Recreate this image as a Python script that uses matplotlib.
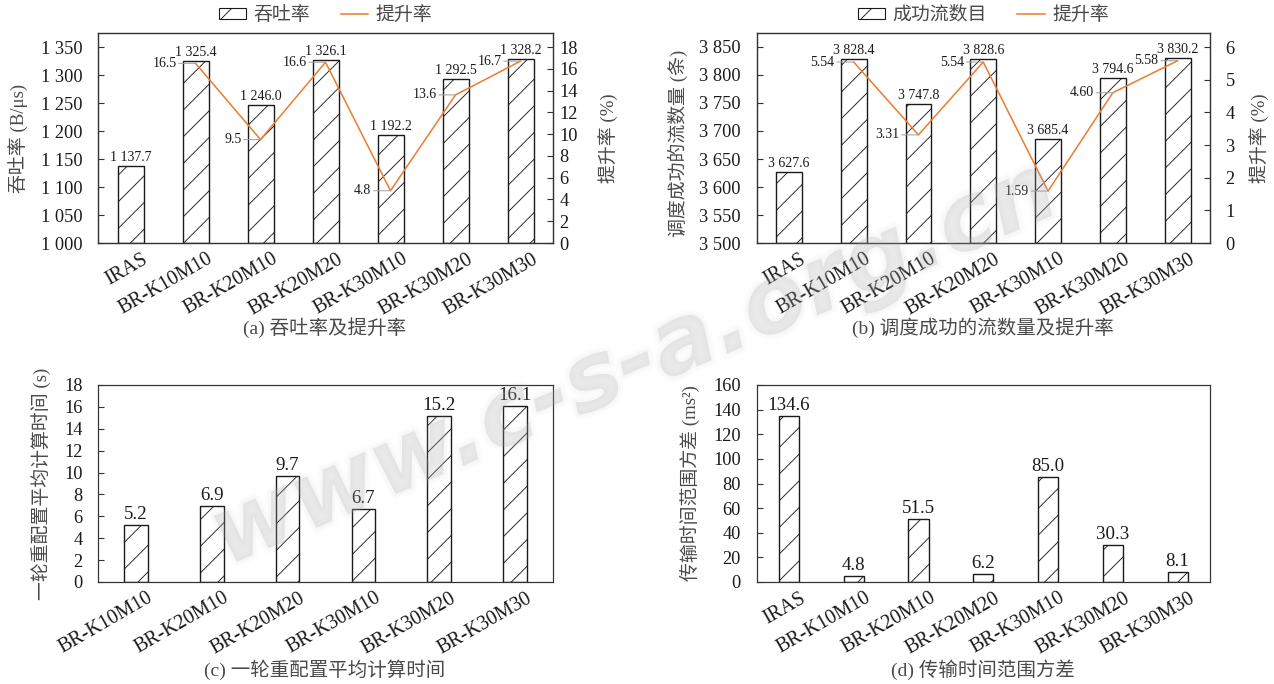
import matplotlib
matplotlib.use("Agg")
import matplotlib.pyplot as plt
import matplotlib.transforms as mtransforms
import matplotlib.patheffects as pe
from matplotlib.patches import Patch
from matplotlib.lines import Line2D
from matplotlib.ticker import FuncFormatter, MultipleLocator

plt.rcParams['font.family'] = ['Liberation Serif', 'Noto Sans CJK SC']
plt.rcParams['hatch.linewidth'] = 0.8
plt.rcParams['hatch.color'] = '#1a1a1a'

# ---------------- data ----------------
cats_all = ["IRAS", "BR-K10M10", "BR-K20M10", "BR-K20M20",
            "BR-K30M10", "BR-K30M20", "BR-K30M30"]
cats_br = cats_all[1:]

throughput = [1137.7, 1325.4, 1246.0, 1326.1, 1192.2, 1292.5, 1328.2]
throughput_gain = [16.5, 9.5, 16.6, 4.8, 13.6, 16.7]

flows = [3627.6, 3828.4, 3747.8, 3828.6, 3685.4, 3794.6, 3830.2]
flows_gain = [5.54, 3.31, 5.54, 1.59, 4.60, 5.58]

calc_time = [5.2, 6.9, 9.7, 6.7, 15.2, 16.1]
variance = [134.6, 4.8, 51.5, 6.2, 85.0, 30.3, 8.1]

# ---------------- figure ----------------
DPI = 80
W, H = 1274, 684
fig = plt.figure(figsize=(W / DPI, H / DPI), dpi=DPI)
fig.patch.set_facecolor('white')

ORANGE = '#ED7D31'
SPINE = '#333333'
NUM = '#1a1a1a'
CJK = '#4a4a4a'


def px_axes(l, t, r, b):
    return fig.add_axes([l / W, 1 - b / H, (r - l) / W, (b - t) / H])


def thousands(v, _pos=None):
    return f"{v:,.0f}".replace(",", " ")


def style_axes(ax, ypad=14):
    for s in ax.spines.values():
        s.set_color(SPINE)
        s.set_linewidth(1.1)
    ax.tick_params(axis='y', direction='in', length=5, width=1, color=SPINE,
                   labelsize=16.5, labelcolor=NUM, pad=ypad)
    ax.tick_params(axis='x', length=0, labelsize=18, labelcolor=NUM, pad=6)


def set_categories(ax, cats):
    x = list(range(len(cats)))
    ax.set_xticks(x)
    ax.set_xticklabels(cats, rotation=30, ha='right', va='top',
                       rotation_mode='anchor')
    shift = mtransforms.ScaledTranslation(11 / DPI, 0, fig.dpi_scale_trans)
    for lab in ax.get_xticklabels():
        lab.set_transform(lab.get_transform() + shift)
    ax.set_xlim(-0.5, len(cats) - 0.5)
    return x


def draw_bars(ax, x, vals, width, fmt, size, base=0):
    ax.bar(x, [v - base for v in vals], width=width, bottom=base,
           facecolor='white', edgecolor='#1a1a1a', linewidth=1.25,
           hatch='/', zorder=2)
    for xi, v in zip(x, vals):
        ax.annotate(fmt(v), (xi, v), xytext=(0, 2), textcoords='offset pixels',
                    ha='center', va='bottom', fontsize=size, color=NUM,
                    zorder=4)


def draw_gain(ax2, x, gains, fmt):
    ax2.plot(x, gains, color=ORANGE, lw=1.4, zorder=3)
    for xi, g in zip(x, gains):
        ax2.annotate(fmt(g), (xi, g), xytext=(-19, 0),
                     textcoords='offset pixels', ha='right', va='center',
                     fontsize=12.5, color=NUM, zorder=4,
                     arrowprops=dict(arrowstyle='-', color='#a0a0a0',
                                     lw=0.9, shrinkA=0, shrinkB=0))


def side_label(ax, x, y, text):
    ax.text(x, y, text, transform=ax.transAxes, rotation=90,
            ha='center', va='center', fontsize=17, color=CJK)


def caption(xpx, ypx, text):
    fig.text(xpx / W, 1 - ypx / H, text, ha='center', va='center',
             fontsize=17.5, color=CJK)


def legend(ax, label):
    handles = [Patch(facecolor='white', edgecolor='#1a1a1a', hatch='/',
                     linewidth=1.0, label=label),
               Line2D([], [], color=ORANGE, lw=1.4, label='提升率')]
    leg = ax.legend(handles=handles, loc='center', bbox_to_anchor=(0.5, 1.086),
                    ncol=2, frameon=False, fontsize=17, handlelength=1.45,
                    handleheight=0.55, handletextpad=0.4, columnspacing=1.6)
    for t in leg.get_texts():
        t.set_color(CJK)


# ---------------- (a) throughput ----------------
axa = px_axes(98, 33, 553, 243)
style_axes(axa)
xa = set_categories(axa, cats_all)
axa.set_ylim(1000, 1375)
axa.yaxis.set_major_locator(MultipleLocator(50))
axa.yaxis.set_major_formatter(FuncFormatter(thousands))
draw_bars(axa, xa, throughput, 0.4,
          lambda v: f"{v:,.1f}".replace(",", " "), 12.5, base=1000)
axa2 = axa.twinx()
style_axes(axa2, ypad=6)
axa2.set_ylim(0, 18 * 375 / 350)
axa2.yaxis.set_major_locator(MultipleLocator(2))
draw_gain(axa2, xa[1:], throughput_gain, lambda g: f"{g:.1f}")
side_label(axa, -0.176, 0.5, '吞吐率 (B/μs)')
side_label(axa, 1.12, 0.5, '提升率 (%)')
legend(axa2, '吞吐率')
caption(325, 328, '(a) 吞吐率及提升率')

# ---------------- (b) scheduled flows ----------------
axb = px_axes(756.5, 33, 1210, 243)
style_axes(axb)
xb = set_categories(axb, cats_all)
axb.set_ylim(3500, 3875)
axb.yaxis.set_major_locator(MultipleLocator(50))
axb.yaxis.set_major_formatter(FuncFormatter(thousands))
draw_bars(axb, xb, flows, 0.4,
          lambda v: f"{v:,.1f}".replace(",", " "), 12.5, base=3500)
axb2 = axb.twinx()
style_axes(axb2, ypad=14)
axb2.set_ylim(0, 6 * 375 / 350)
axb2.yaxis.set_major_locator(MultipleLocator(1))
draw_gain(axb2, xb[1:], flows_gain, lambda g: f"{g:.2f}")
side_label(axb, -0.173, 0.475, '调度成功的流数量 (条)')
side_label(axb, 1.108, 0.5, '提升率 (%)')
legend(axb2, '成功流数目')
caption(983, 328, '(b) 调度成功的流数量及提升率')

# ---------------- (c) reconfiguration time ----------------
axc = px_axes(98, 385, 553, 582)
style_axes(axc)
xc = set_categories(axc, cats_br)
axc.set_ylim(0, 18)
axc.yaxis.set_major_locator(MultipleLocator(2))
draw_bars(axc, xc, calc_time, 0.31, lambda v: f"{v:.1f}", 17)
side_label(axc, -0.125, 0.5, '一轮重配置平均计算时间 (s)')
caption(325, 670, '(c) 一轮重配置平均计算时间')

# ---------------- (d) transmission time variance ----------------
axd = px_axes(756.5, 385, 1210, 582)
style_axes(axd)
xd = set_categories(axd, cats_all)
axd.set_ylim(0, 160)
axd.yaxis.set_major_locator(MultipleLocator(20))
draw_bars(axd, xd, variance, 0.31, lambda v: f"{v:.1f}", 17)
side_label(axd, -0.147, 0.5, '传输时间范围方差 (ms²)')
caption(983, 670, '(d) 传输时间范围方差')

# soft site mark across the figure
soft = [pe.Stroke(linewidth=10, foreground='#c8c8c8', alpha=0.04),
        pe.Stroke(linewidth=5, foreground='#c0c0c0', alpha=0.06),
        pe.Normal()]
fig.text(635 / W, 1 - 365 / H, 'www.c-s-a.org.cn', rotation=23,
         ha='center', va='center', fontsize=84, fontweight='bold',
         style='italic', family='DejaVu Sans', color='#a8a8a8', alpha=0.16,
         zorder=10, path_effects=soft)

fig.savefig('out.png', dpi=DPI, facecolor='white')
